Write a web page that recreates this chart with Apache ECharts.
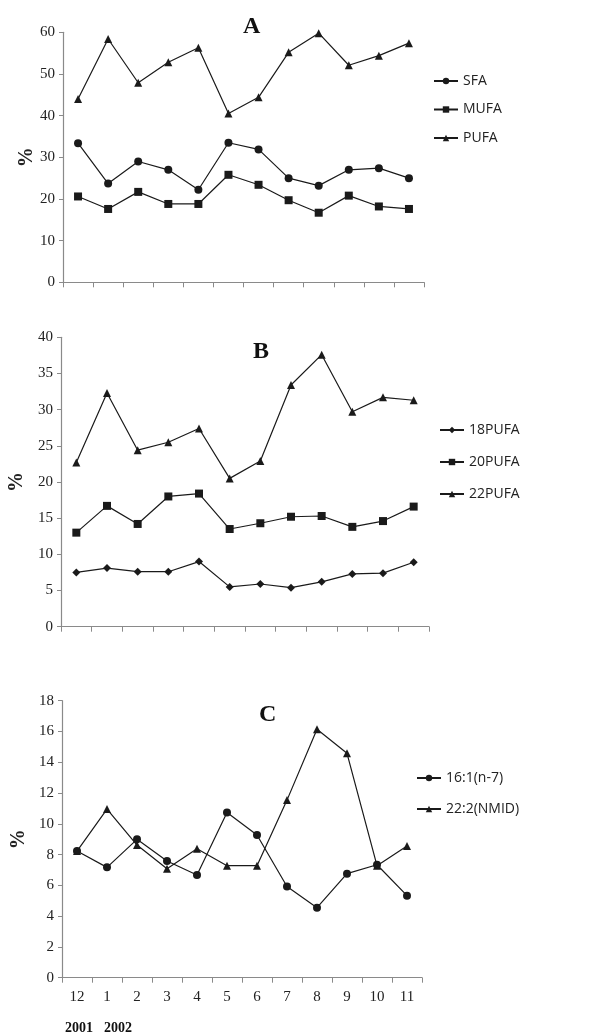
<!DOCTYPE html>
<html><head><meta charset="utf-8">
<script src="https://cdn.jsdelivr.net/npm/echarts@6/dist/echarts.min.js"></script>
<style>html,body{margin:0;padding:0;background:#fff}#c{width:603px;height:1035px}</style>
</head><body><div id="c"></div>
<script>
const months = ['12','1','2','3','4','5','6','7','8','9','10','11'];
const yTicksA = [0,10,20,30,40,50,60];
const yTicksB = [0,5,10,15,20,25,30,35,40];
const yTicksC = [0,2,4,6,8,10,12,14,16,18];
const yearLabels = ['2001','2002'];
// Panel A
const SFA  = [33.4,23.7,29.0,27.0,22.2,33.5,31.9,25.0,23.2,27.0,27.4,25.0];
const MUFA = [20.6,17.6,21.7,18.8,18.8,25.8,23.4,19.7,16.7,20.8,18.2,17.6];
const PUFA = [44.0,58.4,47.9,52.8,56.3,40.5,44.4,55.2,59.8,52.1,54.4,57.4];
// Panel B
const PUFA18 = [7.5,8.1,7.6,7.6,9.0,5.5,5.9,5.4,6.2,7.3,7.4,8.9];
const PUFA20 = [13.0,16.7,14.2,18.0,18.4,13.5,14.3,15.2,15.3,13.8,14.6,16.6];
const PUFA22 = [22.7,32.3,24.4,25.5,27.4,20.5,22.9,33.4,37.6,29.7,31.7,31.3];
// Panel C
const n7   = [8.23,7.17,8.99,7.58,6.67,10.74,9.27,5.93,4.55,6.76,7.34,5.33];
const NMID = [8.23,10.96,8.62,7.08,8.38,7.28,7.28,11.54,16.14,14.58,7.28,8.56];

const serif = 'Liberation Serif';
const lineCol = '#1a1a1a';
const axisCol = '#8a8a8a';

function xAxis(gi, showLabels){
  return {type:'category', gridIndex:gi, data:months, boundaryGap:true,
    axisLine:{lineStyle:{color:axisCol,width:1.2}},
    axisTick:{show:true, length:5, inside:false, lineStyle:{color:axisCol}},
    axisLabel:{show:showLabels, fontFamily:serif, fontSize:15, color:'#222', margin:12},
    splitLine:{show:false}};
}
function yAxis(gi, ticks, gap){
  return {type:'value', gridIndex:gi, min:ticks[0], max:ticks[ticks.length-1], interval:ticks[1]-ticks[0],
    name:'%', nameLocation:'middle', nameGap:gap, nameRotate:90, nameMoveOverlap:false,
    nameTextStyle:{fontFamily:serif, fontWeight:'bold', fontSize:20, color:'#222'},
    axisLine:{show:true, lineStyle:{color:axisCol,width:1.2}},
    axisTick:{show:true, length:4, lineStyle:{color:axisCol}},
    axisLabel:{fontFamily:serif, fontSize:15, color:'#222', margin:8},
    splitLine:{show:false}};
}
function ser(name, data, sym, gi, size){
  return {type:'line', name, data, xAxisIndex:gi, yAxisIndex:gi, symbol:sym, symbolSize:size||8,
    lineStyle:{color:lineCol,width:1.2}, itemStyle:{color:lineCol}, animation:false};
}
function legend(names, left, top, gap){
  return {data:names, orient:'vertical', left, top, itemGap:gap, itemWidth:24, itemHeight:8,
    textStyle:{fontFamily:'Open Sans', fontSize:14, color:'#222'}, selectedMode:false};
}
const chart = echarts.init(document.getElementById('c'), null, {renderer:'canvas'});
chart.setOption({
  backgroundColor:'#fff',
  animation:false,
  title:[
    {text:'A', left:238, top:10, textStyle:{fontFamily:serif, fontWeight:'bold', fontSize:24, color:'#111'}},
    {text:'B', left:248, top:335, textStyle:{fontFamily:serif, fontWeight:'bold', fontSize:24, color:'#111'}},
    {text:'C', left:254, top:698, textStyle:{fontFamily:serif, fontWeight:'bold', fontSize:24, color:'#111'}}
  ],
  legend:[
    legend(['SFA','MUFA','PUFA'], 428, 69, 14.5),
    legend(['18PUFA','20PUFA','22PUFA'], 434, 418, 18),
    legend(['16:1(n-7)','22:2(NMID)'], 411, 766, 17)
  ],
  grid:[
    {left:63, top:32.3, width:361, height:250, outerBoundsMode:'none', containLabel:false},
    {left:61, top:337.3, width:368, height:289.4, outerBoundsMode:'none', containLabel:false},
    {left:62, top:700.7, width:360, height:277, outerBoundsMode:'none', containLabel:false}
  ],
  xAxis:[xAxis(0,false), xAxis(1,false), xAxis(2,true)],
  yAxis:[yAxis(0,yTicksA,26), yAxis(1,yTicksB,34), yAxis(2,yTicksC,33)],
  series:[
    ser('SFA',SFA,'circle',0,8), ser('MUFA',MUFA,'rect',0,8), ser('PUFA',PUFA,'triangle',0,8),
    ser('18PUFA',PUFA18,'diamond',1,8), ser('20PUFA',PUFA20,'rect',1,8), ser('22PUFA',PUFA22,'triangle',1,8),
    ser('16:1(n-7)',n7,'circle',2,8), ser('22:2(NMID)',NMID,'triangle',2,8)
  ],
  graphic:[
    {type:'text', left:65, top:1021, style:{text:yearLabels[0], font:'bold 14px "Liberation Serif"', fill:'#111'}},
    {type:'text', left:104, top:1021, style:{text:yearLabels[1], font:'bold 14px "Liberation Serif"', fill:'#111'}}
  ]
});
</script></body></html>
